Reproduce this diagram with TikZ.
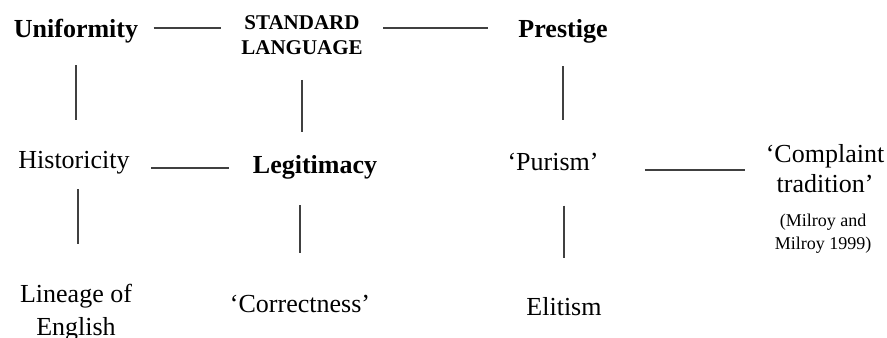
\documentclass[tikz,border=0pt]{standalone}
\usepackage{fontspec}
\setmainfont{Liberation Serif}
\usepackage{tikz}

\begin{document}
\begin{tikzpicture}[x=0.5pt, y=-0.5pt,
		word/.style={inner sep=0pt, anchor=base, font=\fontsize{13}{16}\selectfont},
		keyword/.style={word, font=\bfseries\fontsize{13}{16}\selectfont},
		pair/.style={inner sep=0pt, anchor=north, align=center},
		link/.style={line width=1pt, color=black!75}]
		\useasboundingbox (0,0) rectangle (887,337);

		\node[keyword] (unif) at (76,37) {Uniformity};
		\node[pair, font=\bfseries\fontsize{10.5}{12.5}\selectfont] (std) at (302,15) {STANDARD\\LANGUAGE};
		\node[keyword] (prest) at (563,37) {Prestige};
		\node[word] (hist) at (74,168) {Historicity};
		\node[keyword] (legit) at (315,173) {Legitimacy};
		\node[word] (pur) at (553,170) {`Purism'};
		\node[pair, font=\fontsize{13}{15}\selectfont] (compl) at (825,144) {`Complaint\\tradition'};
		\node[pair, font=\fontsize{9}{11.5}\selectfont] (ref) at (823,214) {(Milroy and\\Milroy 1999)};
		\node[pair, font=\fontsize{13}{16.5}\selectfont] (lin) at (76,284) {Lineage of\\English};
		\node[word] (corr) at (300,312) {`Correctness'};
		\node[word] (elit) at (564,315) {Elitism};

		\draw[link, shorten <=7.5pt, shorten >=10pt] ([yshift=1.5pt]unif.east) -- ([yshift=1.5pt]unif.east -| std.west);
		\draw[link, shorten <=10pt, shorten >=15pt] ([yshift=1.5pt]prest.west -| std.east) -- ([yshift=1.5pt]prest.west);
		\draw[link, shorten <=10.5pt, shorten >=12pt] (hist.base east) -- (hist.base east -| legit.west);
		\draw[link, shorten <=23pt, shorten >=10pt] (pur.base east) -- (pur.base east -| compl.west);

		\draw[link, shorten <=11pt, shorten >=15pt] (unif.south) -- (unif.south |- hist.north);
		\draw[link, shorten <=12.5pt, shorten >=11.5pt] (std.south) -- (std.south |- legit.north);
		\draw[link, shorten <=11.5pt, shorten >=16pt] (prest.south) -- (prest.south |- pur.north);
		\draw[link, shorten <=7.5pt, shorten >=20pt] ([xshift=2pt]hist.south) -- ([xshift=2pt]hist.south |- lin.north);
		\draw[link, shorten <=13pt, shorten >=20.5pt] (corr.north |- legit.south) -- (corr.north);
		\draw[link, shorten <=17.5pt, shorten >=19.5pt] (elit.north |- pur.south) -- (elit.north);

	\end{tikzpicture}
\end{document}
